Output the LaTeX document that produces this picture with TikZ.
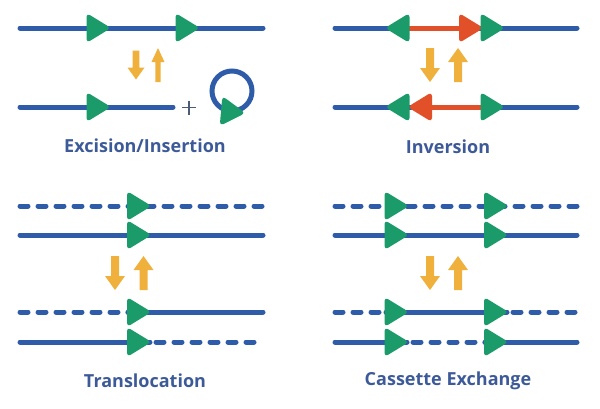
\documentclass[tikz,border=0pt]{standalone}
\usepackage{fontspec}
\setmainfont{Open Sans}
\definecolor{dblue}{HTML}{2E5CA8}
\definecolor{tgreen}{HTML}{1A9B69}
\definecolor{ired}{HTML}{E2502A}
\definecolor{aorange}{HTML}{F0B03C}
\definecolor{lblue}{HTML}{3D5A98}
\definecolor{pgray}{HTML}{4A5C78}
\tikzset{
  dna/.style={dblue,line width=5pt,line cap=round},
  dsh/.style={dna,dash pattern=on 8pt off 10pt},
  redseg/.style={ired,line width=5pt},
  lab/.style={text=lblue,font=\bfseries\fontsize{18}{21}\selectfont,inner sep=0pt},
  pics/tri/.style={code={\fill[#1,rounded corners=4pt] (-12,-15) -- (12.5,0) -- (-12,15) -- cycle;}},
  pics/darrow/.style={code={\fill[aorange] (-4,-17) -- (4,-17) -- (4,3) -- (10,3) -- (0,17) -- (-10,3) -- (-4,3) -- cycle;}},
}
\begin{document}
\begin{tikzpicture}[x=1pt,y=-1pt]
\useasboundingbox (0,0) rectangle (600,408);
% ---------- Excision / Insertion ----------
\draw[dna] (20,28) -- (263,28);
\pic at (98.5,28) {tri=tgreen};
\pic at (187.5,28) {tri=tgreen};
\pic[scale=0.85] at (136,65) {darrow};
\pic[rotate=180,xscale=0.65] at (158,65) {darrow};
\draw[dna] (20,107) -- (173,107);
\pic at (98.5,107) {tri=tgreen};
\draw[pgray,line width=1.6pt] (182,107.5) -- (196,107.5) (189,100.5) -- (189,114.5);
\draw[dna] (232,91) circle (20);
\pic[rotate=-5] at (233,112) {tri=tgreen};
\node[lab] (l1) at (145,146) {Excision/Insertion};
% ---------- Inversion ----------
\draw[dna] (335,28) -- (577,28);
\draw[redseg] (405,28) -- (464,28);
\pic[rotate=180] at (397.5,28) {tri=tgreen};
\pic at (471,28) {tri=ired};
\pic at (492.5,28) {tri=tgreen};
\pic at (430,65) {darrow};
\pic[rotate=180] at (458,65) {darrow};
\draw[dna] (335,107) -- (577,107);
\draw[redseg] (426,107) -- (486,107);
\pic[rotate=180] at (397.5,107) {tri=tgreen};
\pic[rotate=180] at (420,107) {tri=ired};
\pic at (492.5,107) {tri=tgreen};
\node[lab] (l2) at (448,147) {Inversion};
% ---------- Translocation ----------
\draw[dsh] (20,206) -- (263,206);
\pic at (139,206) {tri=tgreen};
\draw[dna] (20,235) -- (263,235);
\pic at (139,235) {tri=tgreen};
\pic at (115,273) {darrow};
\pic[rotate=180] at (143.5,273) {darrow};
\draw[dsh] (20,312) -- (128,312);
\draw[dna] (128,312) -- (263,312);
\pic at (139,312) {tri=tgreen};
\draw[dna] (20,342) -- (150,342);
\draw[dsh] (156,342) -- (258,342);
\pic at (139,342) {tri=tgreen};
\node[lab] (l3) at (145,381) {Translocation};
% ---------- Cassette Exchange ----------
\draw[dsh] (335,206) -- (577,206);
\pic at (396.5,206) {tri=tgreen};
\pic at (496,206) {tri=tgreen};
\draw[dna] (335,235) -- (577,235);
\pic at (396.5,235) {tri=tgreen};
\pic at (496,235) {tri=tgreen};
\pic at (430,273) {darrow};
\pic[rotate=180] at (458,273) {darrow};
\draw[dsh] (335,312) -- (386,312);
\draw[dna] (386,312) -- (507,312);
\draw[dsh] (513,312) -- (577,312);
\pic at (396.5,312) {tri=tgreen};
\pic at (496,312) {tri=tgreen};
\draw[dna] (335,342) -- (407,342);
\draw[dsh] (413,342) -- (485,342);
\draw[dna] (485,342) -- (577,342);
\pic at (396.5,342) {tri=tgreen};
\pic at (496,342) {tri=tgreen};
\node[lab] (l4) at (448,381) {Cassette Exchange};
\end{tikzpicture}
\end{document}
